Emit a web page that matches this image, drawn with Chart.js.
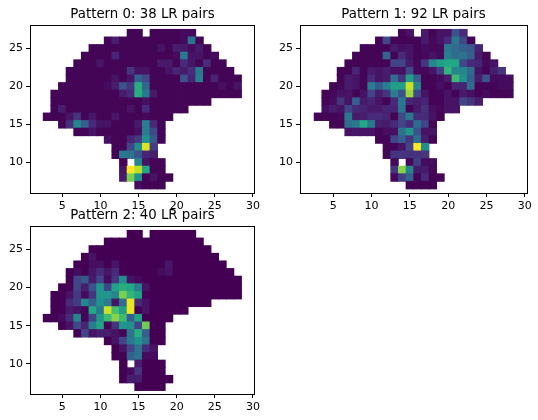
<!DOCTYPE html>
<html><head><meta charset="utf-8">
<style>html,body{margin:0;padding:0;background:#fff;overflow:hidden}canvas{position:absolute}</style>
<script src="https://cdn.jsdelivr.net/npm/chart.js@4"></script>
</head><body>
<canvas id="c0"></canvas><canvas id="c1"></canvas><canvas id="c2"></canvas>
<script>
const titles = ["Pattern 0: 38 LR pairs", "Pattern 1: 92 LR pairs", "Pattern 2: 40 LR pairs"];
const xTicks = [5, 10, 15, 20, 25, 30];
const yTicks = [10, 15, 20, 25];
const rowYs = [27,26,25,24,23,22,21,20,19,18,17,16,15,14,13,12,11,10,9,8,7];
const rowStarts = [14,11,9,8,7,6,6,5,4,4,4,3,5,7,11,12,12,13,13,13,15];
const pattern0 = [
[1,1,null,1,1,1,1,3,3],
[1,8,1,1,1,1,1,1,1,1,3,38,1],
[1,1,1,1,1,1,1,1,1,5,1,8,7,3,7,1],
[1,1,1,1,10,1,1,1,1,1,1,1,3,40,5,5,1,3],
[1,1,1,6,1,1,1,1,1,1,1,7,7,1,12,6,1,13,1,1],
[1,1,1,1,1,1,1,1,15,5,5,1,1,5,10,7,13,40,1,1,1,1],
[1,1,1,1,1,1,5,1,5,30,22,1,1,1,1,25,10,42,1,10,1,1,1],
[1,1,1,1,1,1,3,8,25,15,62,33,1,1,1,1,1,1,1,1,1,4,1,5],
[1,1,1,1,1,1,1,1,1,7,12,62,40,7,1,1,1,1,1,1,1,1,1,1,1],
[1,1,1,1,1,1,1,1,1,1,1,1,4,1,1,1,1,1,1,1,1],
[1,8,1,1,1,1,1,1,1,1,5,1,12,1,1,1,1,1],
[1,1,1,5,15,1,6,1,1,6,1,1,1,2,1,1,1],
[1,13,45,30,12,5,5,1,1,1,7,42,12,1],
[1,1,5,1,1,1,1,1,4,42,22,1],
[4,1,1,10,17,50,28,1],
[1,1,20,48,95,18],
[1,40,38,25,10,8],
[1,null,45,5,1,1],
[5,100,90,60,1,1],
[7,80,50,1,5,1,1],
[3,1,1,1]
];
const pattern1 = [
[1,5,null,7,1,5,5,25,12],
[1,22,1,1,1,1,7,2,5,12,40,22,1],
[1,1,1,1,7,4,5,1,3,2,2,40,35,30,28,10],
[1,1,1,1,32,1,12,5,1,2,5,2,42,35,38,30,7,1],
[1,1,1,1,1,1,20,20,7,2,15,45,55,60,60,22,12,10,2,5],
[1,1,10,1,7,5,8,4,4,22,2,2,5,18,65,45,45,35,5,1,8,15],
[1,7,5,1,12,5,7,35,15,55,30,1,1,3,7,68,50,30,8,25,3,3,3],
[1,1,7,5,1,42,28,42,55,55,92,45,1,1,4,1,10,10,35,1,1,1,3,3],
[1,2,5,5,1,5,20,8,15,42,25,85,22,5,1,1,5,1,7,4,1,3,1,1,1],
[1,3,15,5,30,7,10,5,1,12,40,10,8,10,1,1,5,5,20,15,8],
[4,8,5,20,12,10,7,7,10,10,38,1,7,14,4,2,5,5],
[1,1,1,2,40,7,8,12,12,10,1,22,40,12,12,5,1],
[1,1,35,40,60,40,8,7,12,20,12,35,20,1],
[5,6,5,5,1,4,4,38,52,25,5,5],
[1,1,20,30,15,35,8,1],
[1,1,5,20,100,48],
[1,15,15,14,14,15],
[2,null,2,18,3,3],
[15,82,45,7,7,2],
[2,18,30,1,12,1,1],
[1,1,1,1]
];
const pattern2 = [
[0,0,null,0,0,0,0,0,0],
[0,0,0,0,0,0,0,0,0,0,0,0,0],
[0,0,0,0,0,0,0,0,0,0,0,0,0,0,0,0],
[0,5,0,0,0,0,0,0,0,0,0,0,0,0,0,0,0,0],
[0,0,4,4,0,6,0,0,0,0,0,0,6,0,0,0,0,0,0,0],
[0,3,0,6,12,6,12,0,0,0,0,0,3,5,0,0,0,0,0,0,0,0],
[0,20,28,7,20,3,16,48,5,2,0,0,0,0,0,0,0,0,0,0,0,0,0],
[0,1,20,8,25,52,22,58,62,60,42,5,0,0,0,0,0,0,0,0,0,0,0,0],
[0,0,5,17,3,15,52,52,45,80,65,58,1,0,0,0,0,0,0,0,0,0,0,0,0],
[0,0,12,17,45,30,50,42,5,35,97,12,5,0,0,0,0,0,0,0,0],
[0,0,7,5,1,60,40,92,70,55,97,0,5,0,0,0,0,0],
[0,0,3,12,45,1,20,52,68,82,68,30,58,0,0,0,0],
[0,5,22,10,42,58,1,15,52,50,20,78,0,0],
[0,20,5,8,8,5,1,38,62,30,0,0],
[0,5,20,40,50,38,0,0],
[0,5,20,38,12,5],
[0,0,30,38,3,3],
[0,null,8,0,0,0],
[0,3,15,0,0,0],
[0,8,8,0,0,0,0],
[0,0,0,0]
];
const patterns = [pattern0, pattern1, pattern2];

const viridisStops = ["#440154","#482475","#414487","#355f8d","#2a788e","#21918c","#22a884","#44bf70","#7ad151","#bddf26","#fde725"];
function viridis(v) {
  const t = Math.max(0, Math.min(1, v / 100)) * 10;
  const i = Math.min(9, Math.floor(t)), f = t - i;
  const a = parseInt(viridisStops[i].slice(1), 16), b = parseInt(viridisStops[i + 1].slice(1), 16);
  const m = s => Math.round(((a >> s) & 255) * (1 - f) + ((b >> s) & 255) * f);
  return `rgb(${m(16)},${m(8)},${m(0)})`;
}
function cells(rows) {
  const out = [];
  rows.forEach((row, r) => row.forEach((v, k) => {
    if (v !== null) out.push({ x: rowStarts[r] + k, y: rowYs[r], v });
  }));
  return out;
}
const frame = {
  id: 'frame',
  afterDatasetsDraw(chart) {
    const a = chart.chartArea, c = chart.ctx;
    c.save(); c.strokeStyle = '#000'; c.lineWidth = 1;
    c.strokeRect(Math.round(a.left) + .5, Math.round(a.top) + .5, Math.round(a.right - a.left), Math.round(a.bottom - a.top));
    c.restore();
  }
};
// panel boxes: plot-area left, top, width, height, then axis limits
const boxes = [
  [30, 25, 225, 168, 0.77, 30.14, 5.97, 28.07],
  [300, 25, 227, 168, 0.65, 30.3, 5.97, 28.07],
  [30, 226, 225, 168, 0.77, 30.14, 6.05, 28.07]
];
const padL = 30, padT = 25, padR = 8, padB = 26;
boxes.forEach(([l, t, w, h, xMin, xMax, yMin, yMax], i) => {
  const cv = document.getElementById('c' + i);
  const W = w + padL + padR, H = h + padT + padB;
  cv.style.left = (l - padL) + 'px'; cv.style.top = (t - padT) + 'px';
  cv.style.width = W + 'px'; cv.style.height = H + 'px';
  cv.width = W; cv.height = H;
  const data = cells(patterns[i]);
  const tickOpts = { color: '#000', font: { family: 'DejaVu Sans', size: 11 }, maxRotation: 0, autoSkip: false, padding: 3 };
  const gridOpts = { drawOnChartArea: false, drawTicks: true, tickLength: 4, color: '#000', lineWidth: 1 };
  new Chart(cv, {
    type: 'scatter',
    data: { datasets: [{
      data,
      pointStyle: 'rect',
      pointRadius: 5.95,
      pointHoverRadius: 5.95,
      pointBorderWidth: 0,
      pointBackgroundColor: data.map(d => viridis(d.v))
    }] },
    plugins: [frame],
    options: {
      responsive: false, animation: false, devicePixelRatio: 1,
      events: [],
      layout: { padding: { left: 0, right: padR, top: padT, bottom: 0 } },
      plugins: {
        legend: { display: false }, tooltip: { enabled: false },
        title: { display: false }
      },
      scales: {
        x: {
          type: 'linear', min: xMin, max: xMax,
          afterBuildTicks: s => { s.ticks = xTicks.map(value => ({ value })); },
          afterFit: s => { s.height = padB; },
          ticks: tickOpts, grid: gridOpts, border: { color: '#000' }
        },
        y: {
          type: 'linear', min: yMin, max: yMax,
          afterBuildTicks: s => { s.ticks = yTicks.map(value => ({ value })); },
          afterFit: s => { s.width = padL; },
          ticks: tickOpts, grid: gridOpts, border: { color: '#000' }
        }
      }
    }
  });
  const lbl = document.createElement('div');
  lbl.textContent = titles[i];
  lbl.style.cssText = `position:absolute;left:${l}px;width:${w}px;top:${t - 19}px;text-align:center;font:13.33px/16px 'DejaVu Sans';color:#000;white-space:nowrap`;
  document.body.appendChild(lbl);
});
</script>
</body></html>
